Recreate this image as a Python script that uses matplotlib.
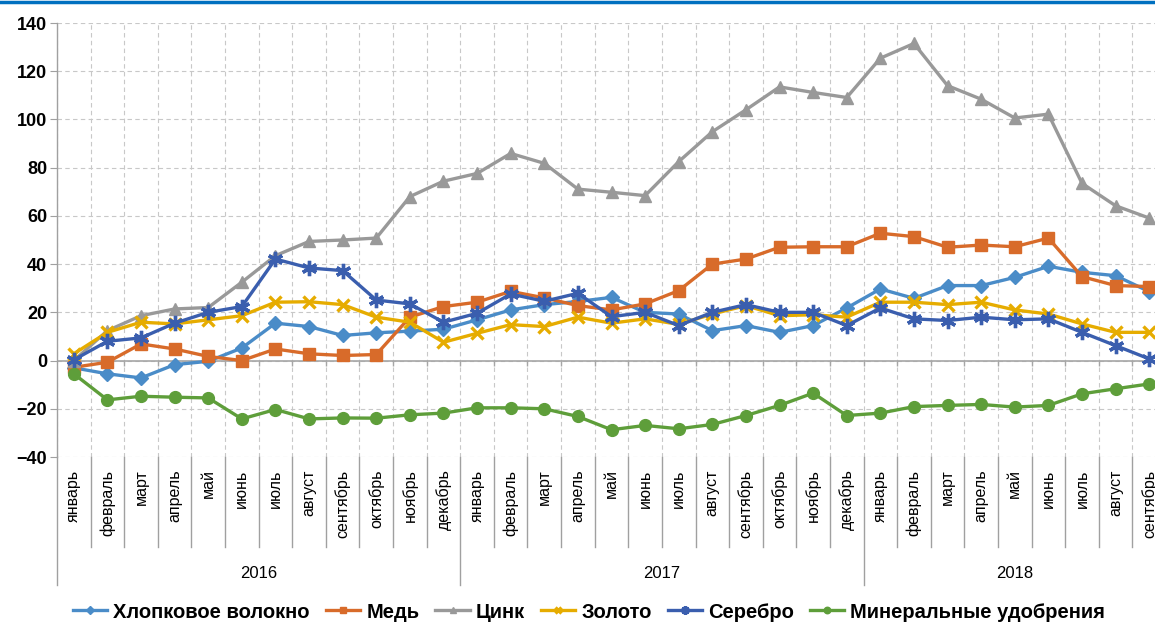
import matplotlib.pyplot as plt
import matplotlib.transforms as mtransforms
from matplotlib.lines import Line2D
import numpy as np

plt.rcParams['font.family'] = ['Liberation Sans', 'DejaVu Sans']

# months Jan 2016 .. Sep 2018
months = ['январь', 'февраль', 'март', 'апрель', 'май', 'июнь', 'июль', 'август',
          'сентябрь', 'октябрь', 'ноябрь', 'декабрь'] * 2 + \
         ['январь', 'февраль', 'март', 'апрель', 'май', 'июнь', 'июль', 'август', 'сентябрь']
years = ['2016', '2017', '2018']
year_len = [12, 12, 9]

cotton = [-3, -5.5, -7.2, -1.7, -0.3, 5.2, 15.5, 14.1, 10.4, 11.5, 12.2, 13,
          16.9, 21, 23.2, 24.5, 26.2, 20, 19.3, 12.4, 14.5, 11.7, 14.5, 21.8,
          29.7, 25.8, 31.1, 31.1, 34.5, 39.1, 36.6, 35.2, 28.6]
copper = [-2.8, -0.7, 6.9, 4.8, 1.7, 0, 4.8, 2.8, 2.1, 2.5, 18, 22.4,
          24.2, 28.7, 26, 22.8, 21, 23.5, 29, 40, 42.1, 47, 47.2, 47.2,
          52.8, 51.4, 47, 47.9, 47.2, 50.8, 34.8, 31.1, 30.7]
zinc = [0, 12.4, 18.6, 21.4, 22, 32.5, 43.5, 49.4, 50, 50.8, 68, 74.4,
        77.6, 85.9, 81.8, 71.1, 69.8, 68.4, 82.5, 94.9, 104, 113.5, 111.2, 109.1,
        125.4, 131.5, 114, 108.4, 100.6, 102.2, 73.5, 64.2, 59.1]
gold = [2.8, 11.7, 15.9, 15.2, 16.9, 18.6, 24.2, 24.4, 23.2, 18, 15.9, 7.6,
        11.3, 14.9, 14.1, 18, 15.5, 17.3, 15, 19.3, 22.8, 18.6, 19, 18,
        24.2, 24.2, 23.2, 24.2, 21, 19.3, 15.2, 11.7, 11.7]
silver = [0.3, 8, 9.4, 15.5, 20, 22.4, 42.1, 38.4, 37.3, 25.1, 23.5, 15.9,
          19.6, 27.6, 24.6, 27.9, 18.2, 20, 14.5, 20, 23.2, 20, 20, 14.5,
          21.8, 17.3, 16.6, 18, 16.9, 17.3, 11.7, 6.2, 0.7]
fert = [-5.5, -16.3, -14.8, -15.2, -15.5, -24.2, -20.3, -24.2, -23.8, -23.9, -22.5, -21.8,
        -19.6, -19.6, -20, -23.2, -28.7, -26.9, -28.3, -26.5, -22.8, -18.6, -13.5, -22.8,
        -21.8, -19.1, -18.6, -18.2, -19.3, -18.6, -13.8, -11.7, -9.7]

series = [
    ('Хлопковое волокно', cotton, '#4A8CC8', 'D', 7.5),
    ('Медь', copper, '#D86B2A', 's', 8.5),
    ('Цинк', zinc, '#999999', '^', 9),
    ('Золото', gold, '#E6AC00', 'x', 9),
    ('Серебро', silver, '#3A5EAE', (6, 2, 0), 11),
    ('Минеральные удобрения', fert, '#5E9E3A', 'o', 8.5),
]

W, H = 1155, 628
fig = plt.figure(figsize=(W / 100, H / 100), dpi=100)
x0, x1, ytop, ybot = 57, 1166, 23, 457
ax = fig.add_axes([x0 / W, 1 - ybot / H, (x1 - x0) / W, (ybot - ytop) / H])

x = np.arange(len(months))
for name, vals, col, mk, ms in series:
    mew = 2.4 if mk == 'x' or isinstance(mk, tuple) else 1
    ax.plot(x, vals, color=col, lw=2.4, marker=mk, markersize=ms,
            markeredgewidth=mew, markeredgecolor=col, label=name,
            clip_on=False, zorder=3)

ax.set_xlim(-0.5, len(months) - 0.5)
ax.set_ylim(-40, 140)
ax.set_yticks(np.arange(-40, 141, 20))
ax.tick_params(axis='y', labelsize=13, length=5, color='#A0A0A0', pad=2)
for t in ax.get_yticklabels():
    t.set_fontweight('bold')

ax.set_xticks(x)
ax.set_xticklabels(months, rotation=90, fontsize=11.5, va='top')
ax.set_xticks(np.arange(-0.5, len(months), 1), minor=True)
ax.tick_params(axis='x', which='both', length=0, pad=9)

ax.grid(True, axis='y', which='major', color='#C8C8C8', ls=(0, (4, 3)), lw=0.8)
ax.grid(True, axis='x', which='minor', color='#C8C8C8', ls=(0, (4, 3)), lw=0.8)
ax.set_axisbelow(True)

for s in ['top', 'right', 'bottom']:
    ax.spines[s].set_visible(False)
ax.spines['left'].set_color('#A0A0A0')
ax.spines['left'].set_linewidth(1.0)

# zero axis with small ticks
ax.axhline(0, color='#A6A6A6', lw=1.2, zorder=1)
ax.vlines(np.arange(0.5, len(months) - 0.5, 1), -2.2, 0, color='#A6A6A6', lw=1.0, zorder=1)

# category separators below the plot
trans = mtransforms.blended_transform_factory(ax.transData, ax.transAxes)
h = ybot - ytop
month_bot = -(547 - ybot) / h
year_bot = -(585 - ybot) / h
year_edges = np.concatenate([[0], np.cumsum(year_len)]) - 0.5
for b in np.arange(0.5, len(months) - 0.5, 1):
    if b in year_edges:
        continue
    ax.plot([b, b], [0, month_bot], color='#A0A0A0', lw=1.0, transform=trans, clip_on=False)
for b in year_edges:
    ax.plot([b, b], [0, year_bot], color='#A0A0A0', lw=1.0, transform=trans, clip_on=False)
for i, yr in enumerate(years):
    cx = (year_edges[i] + year_edges[i + 1]) / 2
    ax.text(cx, -(573 - ybot) / h, yr, transform=trans, ha='center', va='center', fontsize=12)

leg = fig.legend(loc='center', bbox_to_anchor=(0.51, 1 - 612 / H), ncol=6, frameon=False,
                 handlelength=1.7, handletextpad=0.3, columnspacing=0.8, markerscale=0.55,
                 prop={'weight': 'bold', 'size': 14.5})

fig.add_artist(Line2D([0, 1], [1 - 1.5 / H, 1 - 1.5 / H], color='#0070C0', lw=2.5,
                      transform=fig.transFigure))

fig.savefig('out.png', dpi=100)
